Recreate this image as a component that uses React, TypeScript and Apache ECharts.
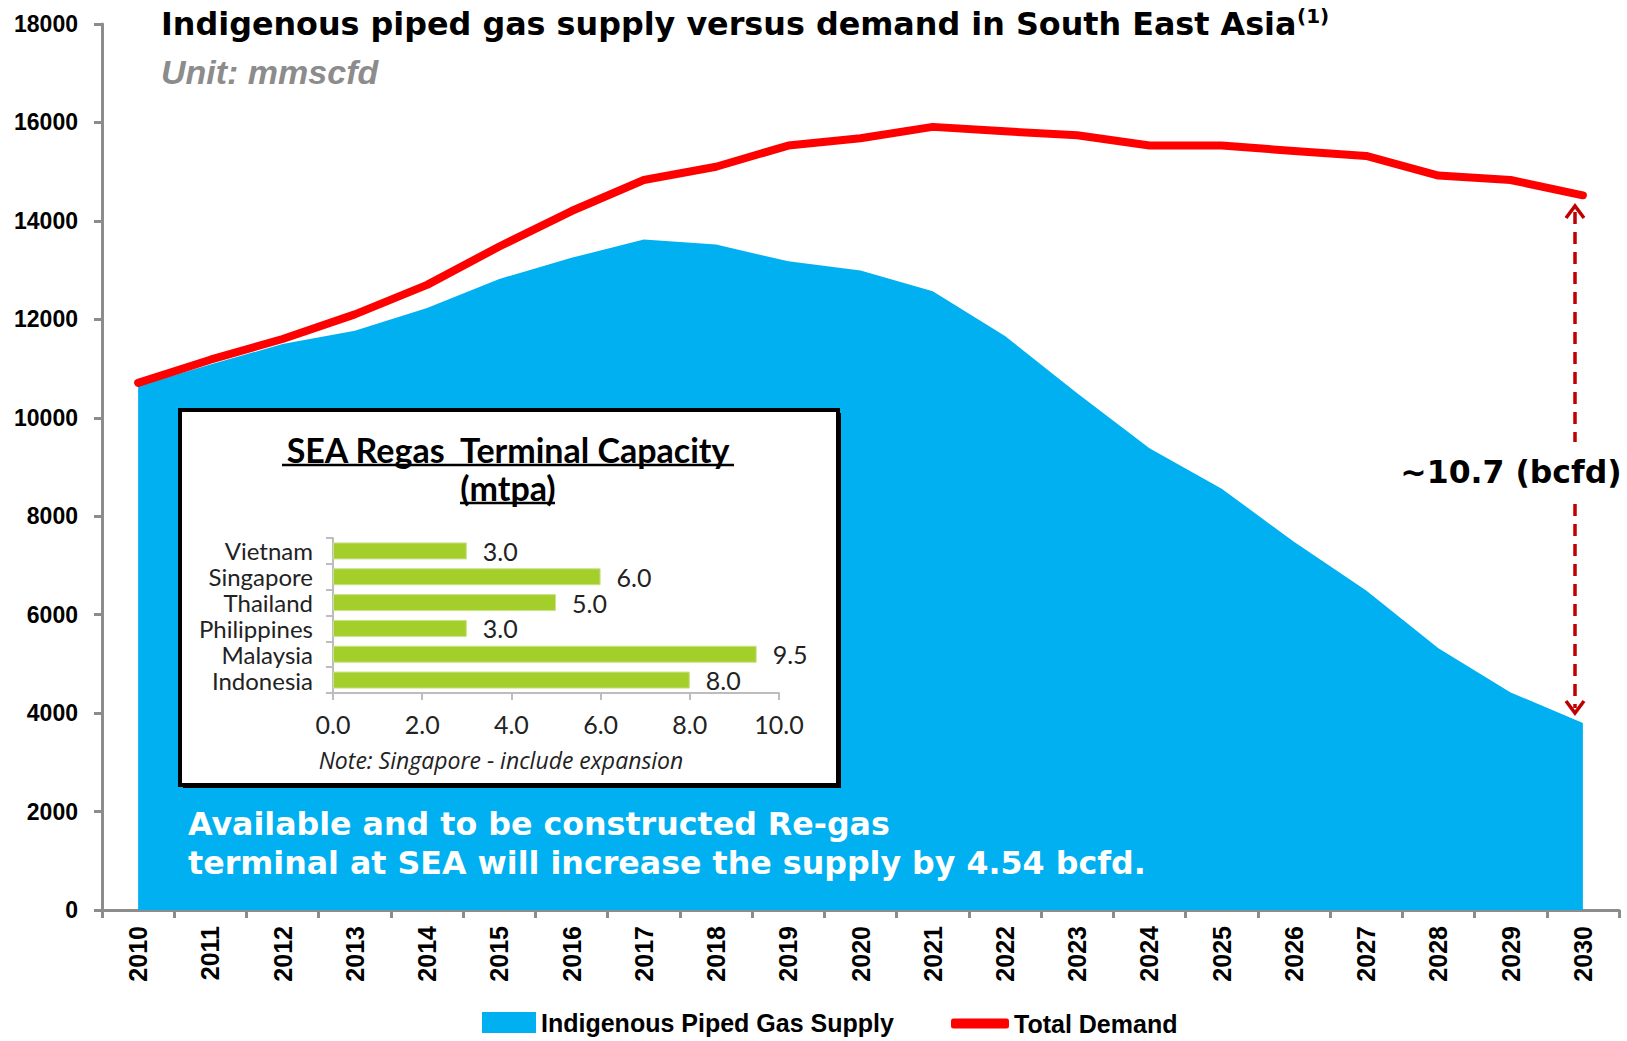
import React, { useEffect, useRef } from "react";
import * as echarts from "echarts";

const years = [
  "2010", "2011", "2012", "2013", "2014", "2015", "2016", "2017", "2018", "2019", "2020",
  "2021", "2022", "2023", "2024", "2025", "2026", "2027", "2028", "2029", "2030",
];
const supply = [
  10650, 11080, 11500, 11770, 12230, 12820, 13250, 13620, 13520, 13180, 12990,
  12570, 11660, 10500, 9380, 8560, 7480, 6490, 5320, 4420, 3800,
];
const demand = [
  10710, 11180, 11600, 12100, 12700, 13480, 14200, 14830, 15100, 15530, 15680,
  15910, 15820, 15740, 15530, 15530, 15420, 15320, 14920, 14830, 14520,
];
const countries = ["Vietnam", "Singapore", "Thailand", "Philippines", "Malaysia", "Indonesia"];
const capacity = [3.0, 6.0, 5.0, 3.0, 9.5, 8.0];

const mainYMax = 18000;
const mainYInterval = 2000;
const insetXMax = 10;
const insetXInterval = 2;

const BIG = "DejaVu Sans";
const ARIAL = "Liberation Sans";
const INSET = "Lato";

export default function App() {
  const ref = useRef<HTMLDivElement>(null);
  useEffect(() => {
    if (!ref.current) return;
    const chart = echarts.init(ref.current, null, { renderer: "svg" });
    const option: any = {
      animation: false,
      backgroundColor: "#ffffff",
      grid: [
        { left: 102, right: 8, top: 24, bottom: 131 },
        { left: 333, top: 538, width: 446, height: 155 },
      ],
      xAxis: [
        {
          type: "category",
          gridIndex: 0,
          data: years,
          boundaryGap: true,
          axisLine: { show: true, lineStyle: { color: "#8c8c8c", width: 3 } },
          axisTick: { show: true, length: 8, lineStyle: { color: "#8c8c8c", width: 3 } },
          axisLabel: {
            rotate: 90,
            margin: 16,
            interval: 0,
            fontFamily: ARIAL,
            fontWeight: "bold",
            fontSize: 25,
            color: "#000",
          },
          splitLine: { show: false },
        },
        {
          type: "value",
          gridIndex: 1,
          min: 0,
          max: insetXMax,
          interval: insetXInterval,
          z: 10,
          axisLine: { show: true, lineStyle: { color: "#bdbdbd", width: 2 } },
          axisTick: { show: true, length: 7, lineStyle: { color: "#bdbdbd", width: 2 } },
          splitLine: { show: false },
          axisLabel: {
            margin: 18,
            fontFamily: INSET,
            fontSize: 25,
            color: "#222",
            formatter: (v: number) => v.toFixed(1),
          },
        },
      ],
      yAxis: [
        {
          type: "value",
          gridIndex: 0,
          min: 0,
          max: mainYMax,
          interval: mainYInterval,
          axisLine: { show: true, lineStyle: { color: "#8c8c8c", width: 3 } },
          axisTick: { show: true, length: 8, lineStyle: { color: "#8c8c8c", width: 3 } },
          splitLine: { show: false },
          axisLabel: {
            margin: 24,
            fontFamily: ARIAL,
            fontWeight: "bold",
            fontSize: 23,
            color: "#000",
            formatter: (v: number) => String(v),
          },
        },
        {
          type: "category",
          gridIndex: 1,
          data: countries,
          inverse: true,
          z: 10,
          axisLine: { show: true, lineStyle: { color: "#bdbdbd", width: 2 } },
          axisTick: { show: true, length: 7, lineStyle: { color: "#bdbdbd", width: 2 } },
          splitLine: { show: false },
          axisLabel: {
            margin: 20,
            interval: 0,
            fontFamily: INSET,
            fontSize: 24,
            color: "#222",
          },
        },
      ],
      legend: [
        {
          data: [{ name: "Indigenous Piped Gas Supply", icon: "rect" }],
          left: 477,
          top: 1005,
          itemWidth: 54,
          itemHeight: 21,
          textStyle: { fontFamily: ARIAL, fontWeight: "bold", fontSize: 25, color: "#000" },
        },
        {
          data: [{ name: "Total Demand", icon: "roundRect" }],
          left: 946,
          top: 1006,
          itemWidth: 58,
          itemHeight: 10,
          textStyle: { fontFamily: ARIAL, fontWeight: "bold", fontSize: 25, color: "#000" },
        },
      ],
      series: [
        {
          name: "Indigenous Piped Gas Supply",
          type: "line",
          xAxisIndex: 0,
          yAxisIndex: 0,
          data: supply,
          symbol: "none",
          z: 2,
          itemStyle: { color: "#00B0F0" },
          lineStyle: { width: 0, color: "#00B0F0" },
          areaStyle: { color: "#00B0F0", opacity: 1 },
        },
        {
          name: "Total Demand",
          type: "line",
          xAxisIndex: 0,
          yAxisIndex: 0,
          data: demand,
          symbol: "none",
          z: 3,
          itemStyle: { color: "#FF0000" },
          lineStyle: { width: 8, color: "#FF0000", cap: "round", join: "round" },
        },
        {
          name: "Capacity",
          type: "bar",
          xAxisIndex: 1,
          yAxisIndex: 1,
          data: capacity,
          barWidth: 17,
          z: 10,
          itemStyle: { color: "#A4CF2A", borderColor: "#C8E38A", borderWidth: 1 },
          label: {
            show: true,
            position: "right",
            distance: 16,
            fontFamily: INSET,
            fontSize: 25,
            color: "#222",
            formatter: (p: any) => Number(p.value).toFixed(1),
          },
        },
      ],
      graphic: [
        {
          type: "text",
          left: 161,
          top: 7,
          z: 20,
          style: {
            text: "Indigenous piped gas supply versus demand in South East Asia",
            font: `bold 31.8px "${BIG}"`,
            fill: "#000",
          },
        },
        {
          type: "text",
          x: 1297,
          y: 6,
          z: 20,
          style: { text: "(1)", font: `bold 20px "${BIG}"`, fill: "#000" },
        },
        {
          type: "text",
          x: 161,
          y: 55,
          z: 20,
          style: { text: "Unit: mmscfd", font: `italic bold 34px "${ARIAL}"`, fill: "#8c8c8c" },
        },
        // inset box shadow + box
        {
          type: "rect",
          z: 5,
          shape: { x: 183, y: 413, width: 658, height: 375 },
          style: { fill: "#000" },
        },
        {
          type: "rect",
          z: 6,
          shape: { x: 180, y: 410, width: 658, height: 375 },
          style: { fill: "#fff", stroke: "#000", lineWidth: 4 },
        },
        {
          type: "text",
          z: 20,
          x: 508,
          y: 449,
          style: {
            text: "SEA Regas  Terminal Capacity",
            font: `bold 34px "${INSET}"`,
            fill: "#000",
            align: "center",
            verticalAlign: "middle",
          },
        },
        {
          type: "line",
          z: 20,
          shape: { x1: 282, y1: 465, x2: 734, y2: 465 },
          style: { stroke: "#000", lineWidth: 2.5 },
        },
        {
          type: "text",
          z: 20,
          x: 508,
          y: 487,
          style: {
            text: "(mtpa)",
            font: `bold 34px "${INSET}"`,
            fill: "#000",
            align: "center",
            verticalAlign: "middle",
          },
        },
        {
          type: "line",
          z: 20,
          shape: { x1: 460, y1: 503, x2: 555, y2: 503 },
          style: { stroke: "#000", lineWidth: 2.5 },
        },
        {
          type: "text",
          z: 20,
          x: 501,
          y: 760,
          style: {
            text: "Note: Singapore - include expansion",
            font: `italic 23px "Open Sans"`,
            fill: "#222",
            align: "center",
            verticalAlign: "middle",
          },
        },
        // bottom white text
        {
          type: "text",
          z: 20,
          x: 188,
          y: 824,
          style: {
            text: "Available and to be constructed Re-gas",
            font: `bold 31.7px "${BIG}"`,
            fill: "#fff",
            verticalAlign: "middle",
          },
        },
        {
          type: "text",
          z: 20,
          x: 188,
          y: 863,
          style: {
            text: "terminal at SEA will increase the supply by 4.54 bcfd.",
            font: `bold 31.7px "${BIG}"`,
            fill: "#fff",
            verticalAlign: "middle",
          },
        },
        // gap annotation
        {
          type: "line",
          z: 20,
          shape: { x1: 1575, y1: 212, x2: 1575, y2: 442 },
          style: { stroke: "#C00000", lineWidth: 3.5, lineDash: [12, 8] },
        },
        {
          type: "line",
          z: 20,
          shape: { x1: 1575, y1: 504, x2: 1575, y2: 708 },
          style: { stroke: "#C00000", lineWidth: 3.5, lineDash: [12, 8] },
        },
        {
          type: "polyline",
          z: 20,
          shape: { points: [[1566, 218], [1575, 206], [1584, 218]] },
          style: { stroke: "#C00000", lineWidth: 3.5, fill: "none" },
        },
        {
          type: "polyline",
          z: 20,
          shape: { points: [[1566, 701], [1575, 713], [1584, 701]] },
          style: { stroke: "#C00000", lineWidth: 3.5, fill: "none" },
        },
        {
          type: "text",
          z: 20,
          x: 1511,
          y: 472,
          style: {
            text: "~10.7 (bcfd)",
            font: `bold 31.5px "${BIG}"`,
            fill: "#000",
            align: "center",
            verticalAlign: "middle",
          },
        },
      ],
    };
    chart.setOption(option);
    return () => chart.dispose();
  }, []);
  return (
    <div
      ref={ref}
      style={{ position: "fixed", left: 0, top: 0, width: 1627, height: 1041 }}
    />
  );
}
